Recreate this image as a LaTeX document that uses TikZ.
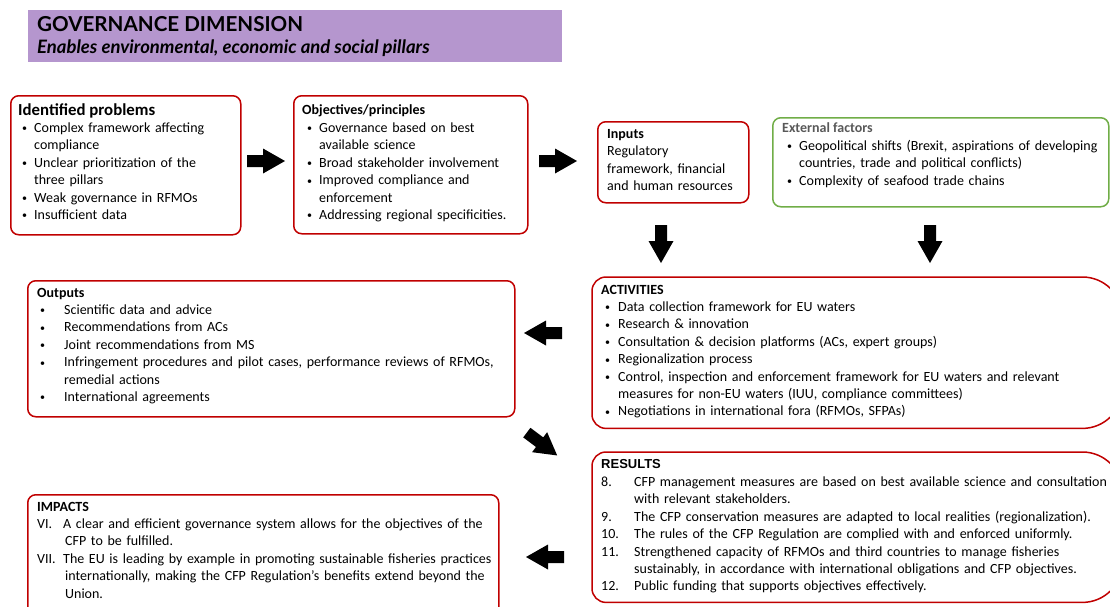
\documentclass[tikz,border=0pt]{standalone}
\usepackage{fontspec}
\setmainfont{Carlito}
\newfontfamily\latofont{Lato}
\newfontfamily\arialfont{Liberation Sans}
\definecolor{boxred}{HTML}{C00000}
\definecolor{boxgreen}{HTML}{70AD47}
\definecolor{titlepurple}{HTML}{B596CE}
\definecolor{extgray}{HTML}{595959}
\newcommand\bodyfont{\fontsize{14}{17.4}\selectfont}
\newcommand\bdot{\raisebox{0.1ex}{\fontsize{10}{10}\selectfont•}}
\newcommand\bul[2]{\makebox[#1][l]{\bdot}#2}
\newcommand\numl[3]{\makebox[#1][l]{#2}#3}
\tikzset{
  redbox/.style={draw=boxred, line width=1.5pt, rounded corners=8pt, rectangle, anchor=north west, inner sep=0pt},
  greenbox/.style={draw=boxgreen, line width=1.5pt, rounded corners=8pt, rectangle, anchor=north west, inner sep=0pt},
  widebox/.style={rectangle, anchor=north west, inner sep=0pt},
  wideline/.style={draw=boxred, line width=1.5pt},
  body/.style={font=\bodyfont, align=left, inner sep=0pt, anchor=base west, text width=#1},
  body/.default=500pt,
  hdr/.style={font=\bodyfont\bfseries, inner sep=0pt, anchor=base west},
  blockarrow/.pic={\fill[black] (-19,-6) -- (-3,-6) -- (-3,-12.5) -- (19,0) -- (-3,12.5) -- (-3,6) -- (-19,6) -- cycle;}
}
\begin{document}
\begin{tikzpicture}[x=1pt,y=-1pt]
\useasboundingbox (0,0) rectangle (1110,606);
\clip (0,0) rectangle (1110,606);

% title
\node[fill=titlepurple, rectangle, anchor=north west, minimum width=534pt, minimum height=52pt, inner sep=0pt] (titlebox) at (28,10) {};
\node[font=\latofont\bfseries\fontsize{20.6}{24}\selectfont, inner sep=0pt, anchor=base west] (title) at (37,31.5) {GOVERNANCE DIMENSION};
\node[font=\latofont\bfseries\itshape\fontsize{18.5}{22}\selectfont, inner sep=0pt, anchor=base west] (subtitle) at (37,53) {Enables environmental, economic and social pillars};

% identified problems
\node[redbox, minimum width=230pt, minimum height=139pt] (probbox) at (10,95) {};
\node[font=\fontsize{16.8}{20}\selectfont\bfseries, inner sep=0pt, anchor=base west] (probhead) at (18,115.5) {Identified problems};
\node[body=215pt] (problist) at (22,132.5) {\bul{12pt}{Complex framework affecting}\\\hspace*{12pt}compliance\\\bul{12pt}{Unclear prioritization of the}\\\hspace*{12pt}three pillars\\\bul{12pt}{Weak governance in RFMOs}\\\bul{12pt}{Insufficient data}};

% objectives
\node[redbox, minimum width=234pt, minimum height=138pt] (objbox) at (293,95) {};
\node[hdr] (objhead) at (302,114.5) {Objectives/principles};
\node[body=220pt] (objlist) at (307,132.5) {\bul{12pt}{Governance based on best}\\\hspace*{12pt}available science\\\bul{12pt}{Broad stakeholder involvement}\\\bul{12pt}{Improved compliance and}\\\hspace*{12pt}enforcement\\\bul{12pt}{Addressing regional specificities.}};

% inputs
\node[redbox, minimum width=151pt, minimum height=81pt] (inbox) at (597,121) {};
\node[hdr] (inhead) at (607,138.5) {Inputs};
\node[body=140pt] (inlist) at (607,155.9) {Regulatory\\framework, financial\\and human resources};

% external factors
\node[greenbox, minimum width=336pt, minimum height=89pt] (extbox) at (772,117) {};
\node[hdr, text=extgray] (exthead) at (782,132.5) {External factors};
\node[body=320pt] (extlist) at (787,150.5) {\bul{12pt}{Geopolitical shifts (Brexit, aspirations of developing}\\\hspace*{12pt}countries, trade and political conflicts)\\\bul{12pt}{Complexity of seafood trade chains}};

% activities
\node[widebox, minimum width=530pt, minimum height=151pt] (actbox) at (592,277) {};
\draw[wideline] ([yshift=20pt]actbox.south west) [rounded corners=14pt] -- (actbox.north west) [rounded corners=40pt] -- (actbox.north east) -- (actbox.south east) [rounded corners=14pt] -- (actbox.south west) -- ([yshift=20pt]actbox.south west);
\node[hdr] (acthead) at (601,294.5) {ACTIVITIES};
\node[body=500pt] (actlist) at (605,311.5) {\bul{13pt}{Data collection framework for EU waters}\\\bul{13pt}{Research \& innovation}\\\bul{13pt}{Consultation \& decision platforms (ACs, expert groups)}\\\bul{13pt}{Regionalization process}\\\bul{13pt}{Control, inspection and enforcement framework for EU waters and relevant}\\\hspace*{13pt}measures for non-EU waters (IUU, compliance committees)\\\bul{13pt}{Negotiations in international fora (RFMOs, SFPAs)}};

% outputs
\node[redbox, minimum width=487pt, minimum height=136pt] (outbox) at (27,280) {};
\node[hdr] (outhead) at (37,297.5) {Outputs};
\node[body=470pt] (outlist) at (40,314.5) {\bul{24pt}{Scientific data and advice}\\\bul{24pt}{Recommendations from ACs}\\\bul{24pt}{Joint recommendations from MS}\\\bul{24pt}{Infringement procedures and pilot cases, performance reviews of RFMOs,}\\\hspace*{24pt}remedial actions\\\bul{24pt}{International agreements}};

% results
\node[widebox, minimum width=530pt, minimum height=150pt] (resbox) at (592,452) {};
\draw[wideline] ([yshift=20pt]resbox.south west) [rounded corners=14pt] -- (resbox.north west) [rounded corners=40pt] -- (resbox.north east) -- (resbox.south east) [rounded corners=14pt] -- (resbox.south west) -- ([yshift=20pt]resbox.south west);
\node[font=\arialfont\bfseries\fontsize{13}{16}\selectfont, inner sep=0pt, anchor=base west] (reshead) at (601,468.5) {RESULTS};
\node[body=520pt] (reslist) at (601,486.5) {\numl{33pt}{8.}{CFP management measures are based on best available science and consultation}\\\hspace*{33pt}with relevant stakeholders.\\\numl{33pt}{9.}{The CFP conservation measures are adapted to local realities (regionalization).}\\\numl{33pt}{10.}{The rules of the CFP Regulation are complied with and enforced uniformly.}\\\numl{33pt}{11.}{Strengthened capacity of RFMOs and third countries to manage fisheries}\\\hspace*{33pt}sustainably, in accordance with international obligations and CFP objectives.\\\numl{33pt}{12.}{Public funding that supports objectives effectively.}};

% impacts
\node[redbox, minimum width=471pt, minimum height=126pt] (impbox) at (27,494) {};
\node[hdr] (imphead) at (37,511.5) {IMPACTS};
\node[body=460pt] (implist) at (37,528.5) {\numl{26pt}{VI.}{A clear and efficient governance system allows for the objectives of the}\\\hspace*{28pt}CFP to be fulfilled.\\\numl{26pt}{VII.}{The EU is leading by example in promoting sustainable fisheries practices}\\\hspace*{28pt}internationally, making the CFP Regulation’s benefits extend beyond the\\\hspace*{28pt}Union.};

% block arrows
\pic at (266,161) {blockarrow};
\pic at (558,161) {blockarrow};
\pic[rotate=-90] at (661,244) {blockarrow};
\pic[rotate=-90] at (930,244) {blockarrow};
\pic[rotate=180] at (543,333) {blockarrow};
\pic[rotate=-37] at (542,444) {blockarrow};
\pic[rotate=180] at (545,557) {blockarrow};
\end{tikzpicture}
\end{document}
